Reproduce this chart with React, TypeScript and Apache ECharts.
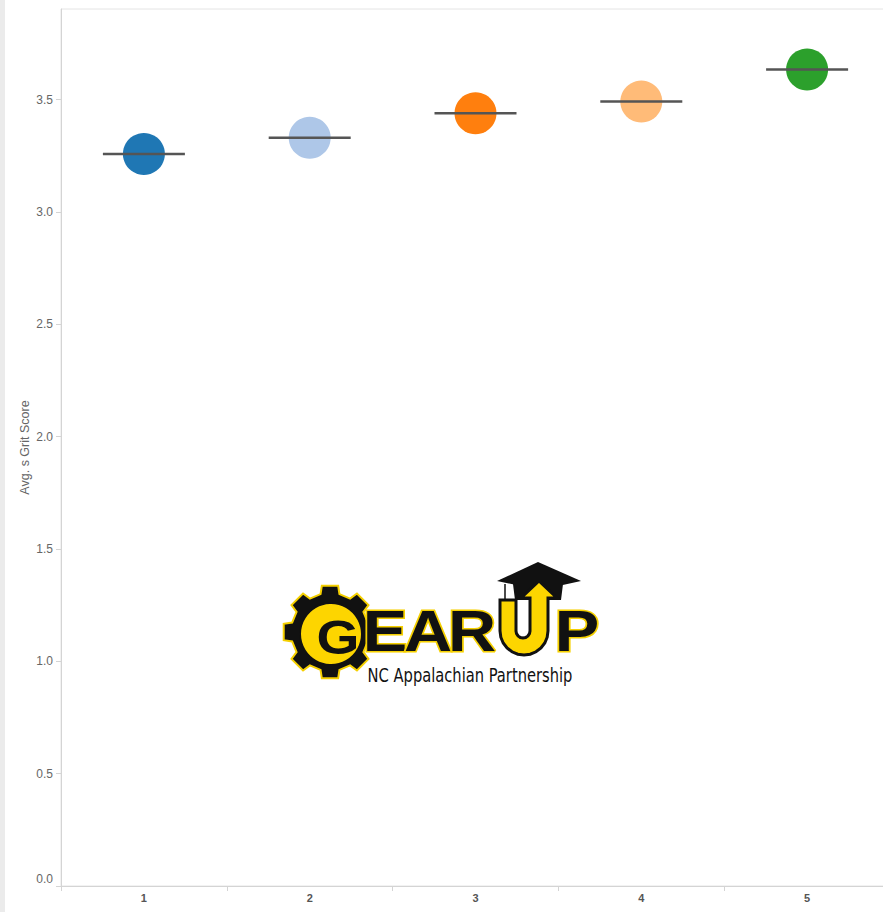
import React, { useEffect, useRef } from "react";
import * as echarts from "echarts";

const categories = ["1", "2", "3", "4", "5"];
const gritScores = [3.258, 3.33, 3.439, 3.491, 3.634];
const pointColors = ["#1f77b4", "#aec7e8", "#ff7f0e", "#ffbb78", "#2ca02c"];
const yTicks = [0, 0.5, 1.0, 1.5, 2.0, 2.5, 3.0, 3.5];
const yAxisTitle = "Avg. s Grit Score";
const logoSubtitle = "NC Appalachian Partnership";

function gearPoints(cx: number, cy: number, rOut: number, rRoot: number, n: number) {
  const pts: number[][] = [];
  for (let i = 0; i < n; i++) {
    const a = -Math.PI / 2 + (i * 2 * Math.PI) / n;
    const d1 = (14 * Math.PI) / 180;
    const d2 = (10 * Math.PI) / 180;
    pts.push([cx + rRoot * Math.cos(a - d1), cy + rRoot * Math.sin(a - d1)]);
    pts.push([cx + rOut * Math.cos(a - d2), cy + rOut * Math.sin(a - d2)]);
    pts.push([cx + rOut * Math.cos(a + d2), cy + rOut * Math.sin(a + d2)]);
    pts.push([cx + rRoot * Math.cos(a + d1), cy + rRoot * Math.sin(a + d1)]);
  }
  return pts;
}

function uArrowPoints() {
  const pts: number[][] = [];
  pts.push([500, 600]);
  pts.push([500, 631]);
  for (let k = 0; k <= 12; k++) {
    const t = Math.PI - (k * Math.PI) / 12;
    pts.push([524 + 24 * Math.cos(t), 631 + 24 * Math.sin(t)]);
  }
  pts.push([548, 598]);
  pts.push([557, 598]);
  pts.push([539, 581]);
  pts.push([521, 598]);
  pts.push([530, 598]);
  pts.push([530, 631]);
  for (let k = 0; k <= 8; k++) {
    const t = (k * Math.PI) / 8;
    pts.push([523 + 7 * Math.cos(t), 631 + 7 * Math.sin(t)]);
  }
  pts.push([516, 600]);
  return pts;
}

const bigFont = "'Liberation Sans', Arial, sans-serif";
const axisFont = "'Liberation Sans', Arial, sans-serif";

function letter(ch: string, x: number, y: number, fill: string, stroke: string, size: number, scaleX = 1.15) {
  return {
    type: "text",
    x,
    y,
    scaleX,
    style: {
      text: ch,
      fontSize: size,
      fontWeight: 900,
      fontFamily: bigFont,
      fill,
      stroke,
      lineWidth: 3,
      strokeFirst: true,
      align: "center",
      verticalAlign: "middle",
      textAlign: "center",
      textVerticalAlign: "middle",
    },
    z: 20,
  };
}

export default function App() {
  const ref = useRef<HTMLDivElement>(null);
  useEffect(() => {
    if (!ref.current) return;
    const chart = echarts.init(ref.current, undefined, { renderer: "svg" });
    const option: any = {
      animation: false,
      backgroundColor: "#ffffff",
      grid: {
        left: 61,
        top: 9,
        right: -7,
        bottom: 26,
        show: true,
        borderColor: "#e4e4e4",
        borderWidth: 1,
        backgroundColor: "#ffffff",
        outerBoundsMode: "none",
        containLabel: false,
      },
      xAxis: {
        type: "category",
        data: categories,
        boundaryGap: true,
        axisLine: { show: true, lineStyle: { color: "#d4d4d4", width: 1 } },
        axisTick: { show: true, length: 5, alignWithLabel: false, lineStyle: { color: "#d4d4d4" } },
        axisLabel: {
          color: "#555555",
          fontSize: 11,
          fontWeight: "bold",
          fontFamily: axisFont,
          margin: 6,
        },
        splitLine: { show: false },
      },
      yAxis: {
        type: "value",
        min: 0,
        max: 3.903,
        interval: 0.5,
        name: yAxisTitle,
        nameLocation: "middle",
        nameGap: 30,
        nameMoveOverlap: false,
        nameRotate: 90,
        nameTextStyle: { color: "#666666", fontSize: 12.5, fontFamily: axisFont },
        axisLine: { show: true, lineStyle: { color: "#d4d4d4", width: 1 } },
        axisTick: { show: true, length: 5, lineStyle: { color: "#d4d4d4" } },
        splitLine: { show: false },
        axisLabel: {
          showMaxLabel: false,
          color: "#666666",
          fontSize: 12,
          fontFamily: axisFont,
          margin: 8,
          formatter: (v: number) => {
            if (!yTicks.some((t) => Math.abs(t - v) < 1e-6)) return "";
            return v === 0 ? "{z|0.0}" : v.toFixed(1);
          },
          rich: {
            z: { color: "#666666", fontSize: 12, fontFamily: axisFont, padding: [0, 0, 15, 0] },
          },
        },
      },
      series: [
        {
          type: "scatter",
          symbol: "circle",
          symbolSize: 42,
          data: gritScores.map((v, i) => ({ value: [categories[i], v], itemStyle: { color: pointColors[i], opacity: 1 } })),
          z: 2,
        },
        {
          type: "scatter",
          symbol: "rect",
          symbolSize: [82, 2.5],
          itemStyle: { color: "#555555", opacity: 1 },
          data: gritScores.map((v, i) => [categories[i], v]),
          z: 3,
        },
      ],
      graphic: [
        { type: "rect", shape: { x: 0, y: 0, width: 5, height: 912 }, style: { fill: "#ebebeb" }, z: 1 },
        {
          type: "polygon",
          shape: { points: gearPoints(330, 632, 47, 39, 8) },
          style: { fill: "#111111", stroke: "#f5d000", lineWidth: 2 },
          z: 10,
        },
        {
          type: "circle",
          shape: { cx: 331, cy: 634, r: 31 },
          style: { fill: "#fdd500", stroke: "#111111", lineWidth: 2 },
          z: 11,
        },
        {
          type: "text",
          x: 338,
          y: 637,
          scaleX: 1.15,
          style: {
            text: "G",
            fontSize: 48,
            fontWeight: 900,
            fontFamily: bigFont,
            fill: "#111111",
            align: "center",
            verticalAlign: "middle",
            textAlign: "center",
            textVerticalAlign: "middle",
          },
          z: 12,
        },
        letter("E", 385, 631, "#111111", "#f5d000", 58),
        letter("A", 428, 631, "#111111", "#f5d000", 58),
        letter("R", 472, 631, "#111111", "#f5d000", 58),
        letter("P", 577, 631, "#111111", "#f5d000", 58),
        {
          type: "polygon",
          shape: { points: [[497, 581], [538, 562], [581, 581], [540, 590]] },
          style: { fill: "#111111" },
          z: 21,
        },
        {
          type: "polygon",
          shape: { points: [[513, 584], [563, 584], [561, 600], [515, 600]] },
          style: { fill: "#111111" },
          z: 21,
        },
        {
          type: "line",
          shape: { x1: 505, y1: 584, x2: 505, y2: 603 },
          style: { stroke: "#111111", lineWidth: 1.5 },
          z: 22,
        },
        {
          type: "circle",
          shape: { cx: 505, cy: 606, r: 3 },
          style: { fill: "#111111" },
          z: 22,
        },
        {
          type: "polygon",
          shape: { points: uArrowPoints() },
          style: { fill: "#fdd500", stroke: "#111111", lineWidth: 3 },
          z: 23,
        },
        {
          type: "text",
          x: 470,
          y: 676,
          scaleX: 0.86,
          style: {
            text: logoSubtitle,
            fontSize: 19,
            fontFamily: "'DejaVu Sans Condensed', 'Liberation Sans Narrow', sans-serif",
            fill: "#111111",
            align: "center",
            verticalAlign: "middle",
            textAlign: "center",
            textVerticalAlign: "middle",
          },
          z: 24,
        },
      ],
    };
    chart.setOption(option);
    return () => chart.dispose();
  }, []);
  return (
    <div
      ref={ref}
      style={{ position: "absolute", left: 0, top: 0, width: 883, height: 912 }}
    />
  );
}
